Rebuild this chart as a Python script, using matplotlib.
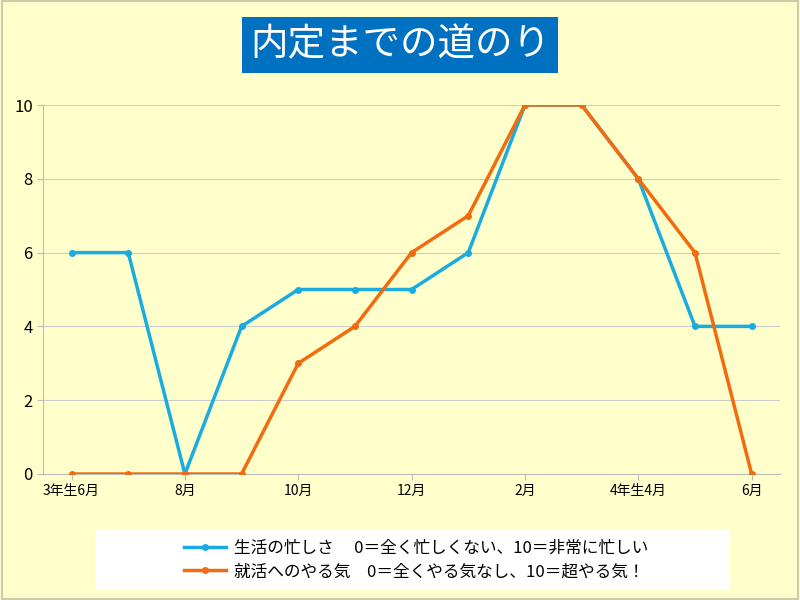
import matplotlib.pyplot as plt
from matplotlib.patches import Rectangle

plt.rcParams['font.family'] = 'Noto Sans CJK JP'

months = ['3年生6月', '7月', '8月', '9月', '10月', '11月', '12月', '1月',
          '2月', '3月', '4年生4月', '5月', '6月']
busy = [6, 6, 0, 4, 5, 5, 5, 6, 10, 10, 8, 4, 4]
motivation = [0, 0, 0, 0, 3, 4, 6, 7, 10, 10, 8, 6, 0]

bg = '#FFFFCC'
fig = plt.figure(figsize=(8, 6), dpi=100, facecolor=bg)
fig.patches.append(Rectangle((0.002, 0.002), 0.996, 0.996, transform=fig.transFigure,
                             fill=False, edgecolor='#CCCCAA', linewidth=1.5))
# white panel behind the legend
fig.patches.append(Rectangle((0.119, 0.017), 0.794, 0.1, transform=fig.transFigure,
                             facecolor='white', edgecolor='none'))

ax = fig.add_axes([0.054, 0.21, 0.921, 0.615])
ax.set_facecolor(bg)
x = list(range(len(months)))
ax.plot(x, busy, color='#1AACE0', linewidth=2.5, marker='o', markersize=4,
        label='生活の忙しさ　 0＝全く忙しくない、10＝非常に忙しい', zorder=3)
ax.plot(x, motivation, color='#F26B0F', linewidth=2.5, marker='o', markersize=4,
        label='就活へのやる気　0＝全くやる気なし、10＝超やる気！', zorder=4)

ax.set_xlim(-0.5, 12.5)
ax.set_ylim(0, 10)
ax.set_yticks(range(0, 11, 2))
ax.set_xticks(x[::2])
ax.set_xticklabels(months[::2], fontsize=10)
ax.tick_params(axis='y', labelsize=12, length=4, color='#BBBBBB')
ax.tick_params(axis='x', length=4, color='#BBBBBB')
ax.grid(axis='y', color='#CCCCCC', linewidth=0.8)
for s in ['top', 'right']:
    ax.spines[s].set_visible(False)
for s in ['left', 'bottom']:
    ax.spines[s].set_color('#BBBBBB')

fig.text(0.5, 0.925, '内定までの道のり', ha='center', va='center', fontsize=27,
         color='white', bbox=dict(boxstyle='square,pad=0.22', facecolor='#0070C0', edgecolor='none'))

fig.legend(loc='center', bbox_to_anchor=(0.52, 0.067), frameon=False,
           fontsize=12, handlelength=2.5, handletextpad=0.5, labelspacing=0.4)

plt.savefig('out.png', dpi=100, facecolor=bg)
